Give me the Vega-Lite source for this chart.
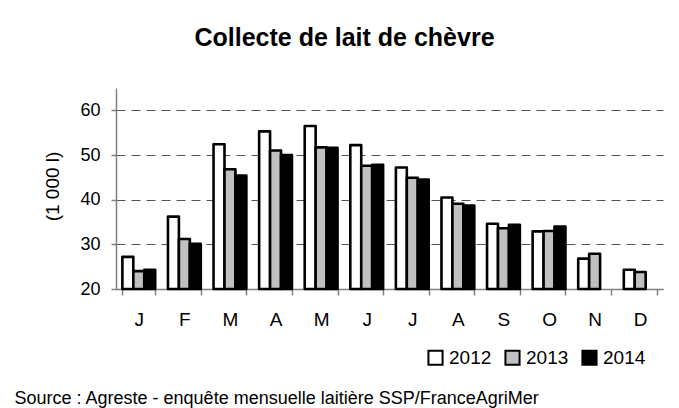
{
  "$schema": "https://vega.github.io/schema/vega-lite/v6.json",
  "description": "Collecte de lait de chèvre, 2012-2014, par mois",
  "width": 547,
  "height": 201,
  "autosize": "none",
  "padding": {"left": 116, "top": 88, "right": 16, "bottom": 119},
  "background": "white",
  "config": {
    "view": {"stroke": null},
    "font": "Liberation Sans"
  },
  "title": {
    "text": "Collecte de lait de chèvre",
    "font": "Liberation Sans",
    "fontSize": 25,
    "fontWeight": "bold",
    "color": "black",
    "anchor": "middle",
    "frame": "group",
    "baseline": "alphabetic",
    "offset": 17,
    "dx": -45
  },
  "data": {
    "values": [
      {"mois": "janv", "annee": "2012", "collecte": 27.2},
      {"mois": "janv", "annee": "2013", "collecte": 24.0},
      {"mois": "janv", "annee": "2014", "collecte": 24.3},
      {"mois": "févr", "annee": "2012", "collecte": 36.2},
      {"mois": "févr", "annee": "2013", "collecte": 31.2},
      {"mois": "févr", "annee": "2014", "collecte": 30.1},
      {"mois": "mars", "annee": "2012", "collecte": 52.4},
      {"mois": "mars", "annee": "2013", "collecte": 46.8},
      {"mois": "mars", "annee": "2014", "collecte": 45.4},
      {"mois": "avr", "annee": "2012", "collecte": 55.3},
      {"mois": "avr", "annee": "2013", "collecte": 51.0},
      {"mois": "avr", "annee": "2014", "collecte": 50.0},
      {"mois": "mai", "annee": "2012", "collecte": 56.5},
      {"mois": "mai", "annee": "2013", "collecte": 51.7},
      {"mois": "mai", "annee": "2014", "collecte": 51.6},
      {"mois": "juin", "annee": "2012", "collecte": 52.2},
      {"mois": "juin", "annee": "2013", "collecte": 47.6},
      {"mois": "juin", "annee": "2014", "collecte": 47.8},
      {"mois": "juil", "annee": "2012", "collecte": 47.2},
      {"mois": "juil", "annee": "2013", "collecte": 44.9},
      {"mois": "juil", "annee": "2014", "collecte": 44.5},
      {"mois": "août", "annee": "2012", "collecte": 40.5},
      {"mois": "août", "annee": "2013", "collecte": 39.1},
      {"mois": "août", "annee": "2014", "collecte": 38.7},
      {"mois": "sept", "annee": "2012", "collecte": 34.6},
      {"mois": "sept", "annee": "2013", "collecte": 33.6},
      {"mois": "sept", "annee": "2014", "collecte": 34.4},
      {"mois": "oct", "annee": "2012", "collecte": 32.9},
      {"mois": "oct", "annee": "2013", "collecte": 33.0},
      {"mois": "oct", "annee": "2014", "collecte": 34.0},
      {"mois": "nov", "annee": "2012", "collecte": 26.8},
      {"mois": "nov", "annee": "2013", "collecte": 27.9},
      {"mois": "déc", "annee": "2012", "collecte": 24.3},
      {"mois": "déc", "annee": "2013", "collecte": 23.8}
    ]
  },
  "mark": {"type": "bar", "stroke": "black", "strokeWidth": 2.6, "strokeJoin": "round"},
  "encoding": {
    "x": {
      "field": "mois",
      "type": "nominal",
      "sort": null,
      "scale": {"paddingInner": 0.28, "paddingOuter": 0.14},
      "axis": {
        "title": "Source : Agreste - enquête mensuelle laitière SSP/FranceAgriMer",
        "titleX": -102,
        "titleY": 114,
        "titleAlign": "left",
        "titleBaseline": "alphabetic",
        "titleFont": "Liberation Sans",
        "titleFontSize": 18,
        "titleFontWeight": "normal",
        "titleColor": "black",
        "labelExpr": "datum.value ? upper(substring(datum.value, 0, 1)) : ''",
        "labelAngle": 0,
        "labelFontSize": 19,
        "labelColor": "black",
        "labelPadding": 15,
        "tickBand": "extent",
        "tickSize": 6,
        "tickColor": "#808080",
        "tickWidth": 1.5,
        "domainColor": "#808080",
        "domainWidth": 1.5
      }
    },
    "xOffset": {"field": "annee", "type": "nominal", "scale": {"paddingInner": 0}},
    "y": {
      "field": "collecte",
      "type": "quantitative",
      "scale": {"domain": [20, 65], "zero": false, "nice": false},
      "axis": {
        "title": "(1 000 l)",
        "titleX": -64,
        "titleY": 98,
        "titleAngle": -90,
        "titleAlign": "center",
        "titleBaseline": "middle",
        "titleFont": "Liberation Sans",
        "titleFontSize": 19,
        "titleFontWeight": "normal",
        "titleColor": "black",
        "values": [20, 30, 40, 50, 60],
        "labelFontSize": 18,
        "labelColor": "black",
        "labelPadding": 11,
        "tickSize": 5,
        "tickColor": "#808080",
        "tickWidth": 1.5,
        "domainColor": "#808080",
        "domainWidth": 1.5,
        "grid": true,
        "gridColor": "#555555",
        "gridWidth": 1.2,
        "gridDash": [9, 6]
      }
    },
    "y2": {"datum": 20},
    "fill": {
      "field": "annee",
      "type": "nominal",
      "scale": {"domain": ["2012", "2013", "2014"], "range": ["white", "#c0c0c0", "black"]},
      "legend": {
        "title": null,
        "orient": "none",
        "legendX": 310,
        "legendY": 260,
        "direction": "horizontal",
        "columns": 3,
        "padding": 0,
        "symbolType": "square",
        "symbolSize": 200,
        "symbolStrokeColor": "black",
        "symbolStrokeWidth": 2,
        "labelFontSize": 19,
        "labelColor": "black",
        "labelOffset": 4,
        "columnPadding": 9
      }
    }
  }
}
